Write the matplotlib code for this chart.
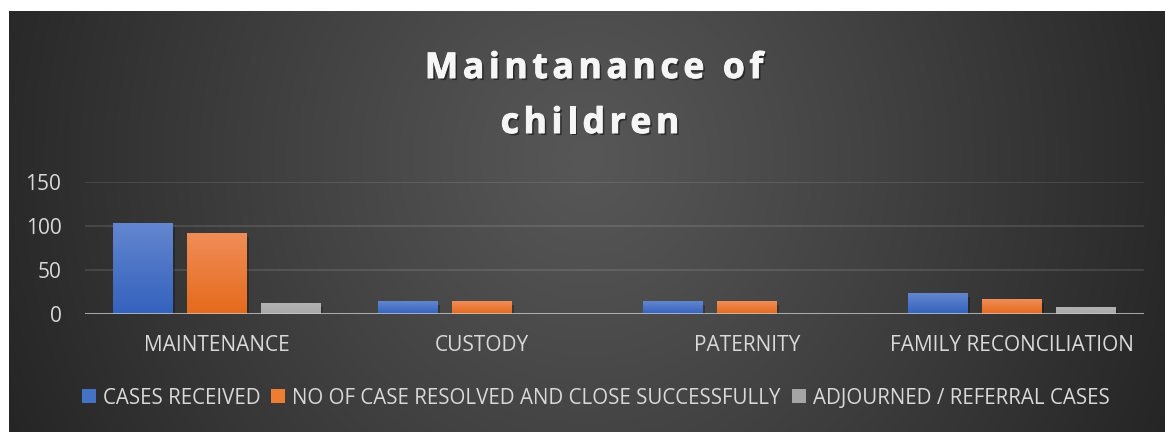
import numpy as np
import matplotlib
matplotlib.use('Agg')
import matplotlib.pyplot as plt
from matplotlib.patches import Patch
from matplotlib import patheffects as pe
from matplotlib.colors import LinearSegmentedColormap
from matplotlib import font_manager
from matplotlib.ft2font import FT2Font

categories = ["MAINTENANCE", "CUSTODY", "PATERNITY", "FAMILY RECONCILIATION"]
series_names = ["CASES RECEIVED",
                "NO OF CASE RESOLVED AND CLOSE SUCCESSFULLY",
                "ADJOURNED / REFERRAL CASES"]
cases_received = [103, 14, 14, 23]
cases_resolved = [92, 14, 14, 16]
adjourned = [12, 0, 0, 7]
yticks = [0, 50, 100, 150]
title_lines = ["Maintanance of", "children"]

series = [cases_received, cases_resolved, adjourned]
base_colors = ["#4472c4", "#ed7d31", "#a5a5a5"]
grad_colors = [("#3462bd", "#6386d0"), ("#e56a1c", "#f08d57"), ("#a9a9a9", "#b3b3b3")]

plt.rcParams['font.family'] = ['Open Sans', 'DejaVu Sans']

W, H = 1165, 432
DPI = 100
fig = plt.figure(figsize=(W / DPI, H / DPI), dpi=DPI)
fig.patch.set_facecolor('white')

# background panel with radial gradient
bg = fig.add_axes([9 / W, 0, (W - 9) / W, (H - 11) / H])
bg.axis('off')
ny, nx = 200, 600
xx, yy = np.meshgrid(np.linspace(0, 1, nx), np.linspace(0, 1, ny))
r = np.sqrt(((xx - 0.5) / 0.55) ** 2 + ((yy - 0.35) / 1.6) ** 2)
val = (87 - 50 * np.clip(r, 0, 1) ** 1.1) / 255
bg.imshow(np.dstack([val, val, val]), extent=[0, 1, 0, 1], aspect='auto',
          origin='upper', interpolation='bilinear')
bg.set_xlim(0, 1)
bg.set_ylim(0, 1)

ax = fig.add_axes([85 / W, 1 - 314 / H, (1144 - 85) / W, 132 / H])
ax.set_facecolor('none')
x = np.arange(len(categories))
step = 0.2795
bw = 0.2266
bar_shadow = [pe.SimplePatchShadow(offset=(1.5, -2.5), shadow_rgbFace='black', alpha=0.25), pe.Normal()]
for i, (vals, col, gc) in enumerate(zip(series, base_colors, grad_colors)):
    bars = ax.bar(x + (i - 1) * step, vals, width=bw, color=col, zorder=2,
                  label=series_names[i])
    cmap = LinearSegmentedColormap.from_list('g%d' % i, [gc[0], gc[1]])
    for b in bars:
        h = b.get_height()
        if h <= 0:
            continue
        b.set_path_effects(bar_shadow)
        x0 = b.get_x()
        grad = np.linspace(1, 0, 64).reshape(-1, 1)
        ax.imshow(grad, extent=[x0, x0 + b.get_width(), 0, h], aspect='auto',
                  cmap=cmap, vmin=0, vmax=1, zorder=2.5, origin='upper')

ax.set_xlim(-0.5, len(categories) - 0.5)
ax.set_ylim(0, 150)
ax.set_yticks(yticks)
ax.set_xticks(x)
ax.set_xticklabels(categories)
ax.yaxis.grid(True, color='#ffffff', alpha=0.12, lw=1.3, zorder=0)
ax.set_axisbelow(True)
for s in ax.spines.values():
    s.set_visible(False)
ax.axhline(0, color='#c8c8c8', alpha=0.75, lw=2.2, zorder=5)
ax.tick_params(axis='both', length=0, colors='#d9d9d9', labelsize=15)
ax.tick_params(axis='y', pad=17)
ax.tick_params(axis='x', pad=15)

# title with letter spacing (tracking)
tsize = 25.5
tracking = 4.7  # px
fpath = font_manager.findfont(font_manager.FontProperties(family='Open Sans', weight='bold'))
ft = FT2Font(fpath)
ft.set_size(tsize, DPI)
title_fx = [pe.SimplePatchShadow(offset=(1.5, -1.5), shadow_rgbFace='black', alpha=0.45),
            pe.Stroke(linewidth=0.7, foreground='#f6f6f6'), pe.Normal()]


def tracked_line(s, cx, base_y):
    adv = []
    for c in s:
        g = ft.load_char(ord(c))
        adv.append(g.linearHoriAdvance / 65536.0)
    total = sum(adv) + tracking * (len(s) - 1)
    xpos = cx - total / 2
    for c, a in zip(s, adv):
        if c != ' ':
            fig.text(xpos / W, 1 - base_y / H, c, ha='left', va='baseline',
                     fontsize=tsize, fontweight='bold', color='#f6f6f6',
                     path_effects=title_fx)
        xpos += a + tracking


tracked_line(title_lines[0], 594, 78)
tracked_line(title_lines[1], 590, 133)

handles = [Patch(facecolor=c, edgecolor='none') for c in base_colors]
fig.legend(handles, series_names, loc='center', ncol=3,
           bbox_to_anchor=(595.5 / W, 1 - 398 / H), frameon=False,
           fontsize=14.8, labelcolor='#d9d9d9', handlelength=0.68,
           handleheight=0.68, handletextpad=0.34, columnspacing=0.53)

fig.savefig('out.png', dpi=DPI, facecolor=fig.get_facecolor())
